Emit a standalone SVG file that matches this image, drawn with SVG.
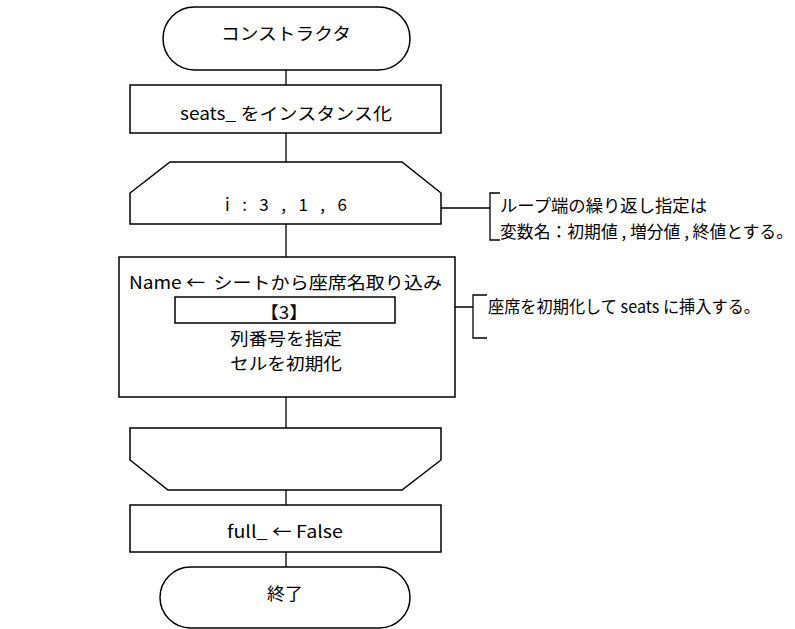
<svg xmlns="http://www.w3.org/2000/svg" width="795" height="629" viewBox="0 0 795 629">
<style>
.s{fill:#fff;stroke:#000;stroke-width:1.5}
.l{fill:none;stroke:#000;stroke-width:1.3}
text{font-family:"Noto Sans CJK JP","DejaVu Sans",sans-serif;font-size:17px;fill:#000}
.c{text-anchor:middle}
</style>
<rect width="795" height="629" fill="#fff"/>
<g id="connectors">
<path class="l" d="M286 70V85M286 133V162M286 224V257M286 397V428M286 490V505M286 552V567"/>
<path class="l" d="M441 208H490M500 193H490V240H500"/>
<path class="l" d="M395 307H473M487 295H473V338H487"/>
</g>
<g id="start"><rect class="s" x="163" y="7" width="247" height="63" rx="31.5"/><text class="c" x="286" y="39.5" textLength="130" lengthAdjust="spacingAndGlyphs">コンストラクタ</text></g>
<g id="init"><rect class="s" x="130" y="85" width="311" height="48"/><text class="c" x="286" y="119.5" textLength="212" lengthAdjust="spacingAndGlyphs">seats_ をインスタンス化</text></g>
<g id="loopStart"><path class="s" d="M170 162H402L441 193V224H130V193Z"/><text class="c" x="286" y="211" textLength="122" lengthAdjust="spacing" xml:space="preserve">i : 3 , 1 , 6</text></g>
<g id="body"><rect class="s" x="119" y="257" width="336" height="140"/>
<text class="c" x="285.5" y="289" textLength="313" lengthAdjust="spacingAndGlyphs" xml:space="preserve">Name ←  シートから座席名取り込み</text>
<rect class="s" x="175" y="297" width="220" height="26"/>
<text class="c" x="284" y="318.5" textLength="48" lengthAdjust="spacingAndGlyphs">【3】</text>
<text class="c" x="286" y="344.5" textLength="112" lengthAdjust="spacingAndGlyphs">列番号を指定</text>
<text class="c" x="286" y="369.5" textLength="112" lengthAdjust="spacingAndGlyphs">セルを初期化</text></g>
<g id="loopEnd"><path class="s" d="M130 428H441V460L402 490H168L130 460Z"/></g>
<g id="setFull"><rect class="s" x="130" y="505" width="311" height="47"/><text class="c" x="285" y="538" textLength="116" lengthAdjust="spacingAndGlyphs">full_ ← False</text></g>
<g id="end"><rect class="s" x="160" y="567" width="250" height="61" rx="30.5"/><text class="c" x="285" y="599.5" textLength="36" lengthAdjust="spacingAndGlyphs">終了</text></g>
<g id="note1"><text x="500" y="211.5" textLength="207" lengthAdjust="spacingAndGlyphs">ループ端の繰り返し指定は</text><text x="500" y="238" textLength="293" lengthAdjust="spacingAndGlyphs">変数名：初期値 , 増分値 , 終値とする。</text></g>
<g id="note2"><text x="488" y="312.5" textLength="272" lengthAdjust="spacingAndGlyphs">座席を初期化して seats に挿入する。</text></g>
</svg>
